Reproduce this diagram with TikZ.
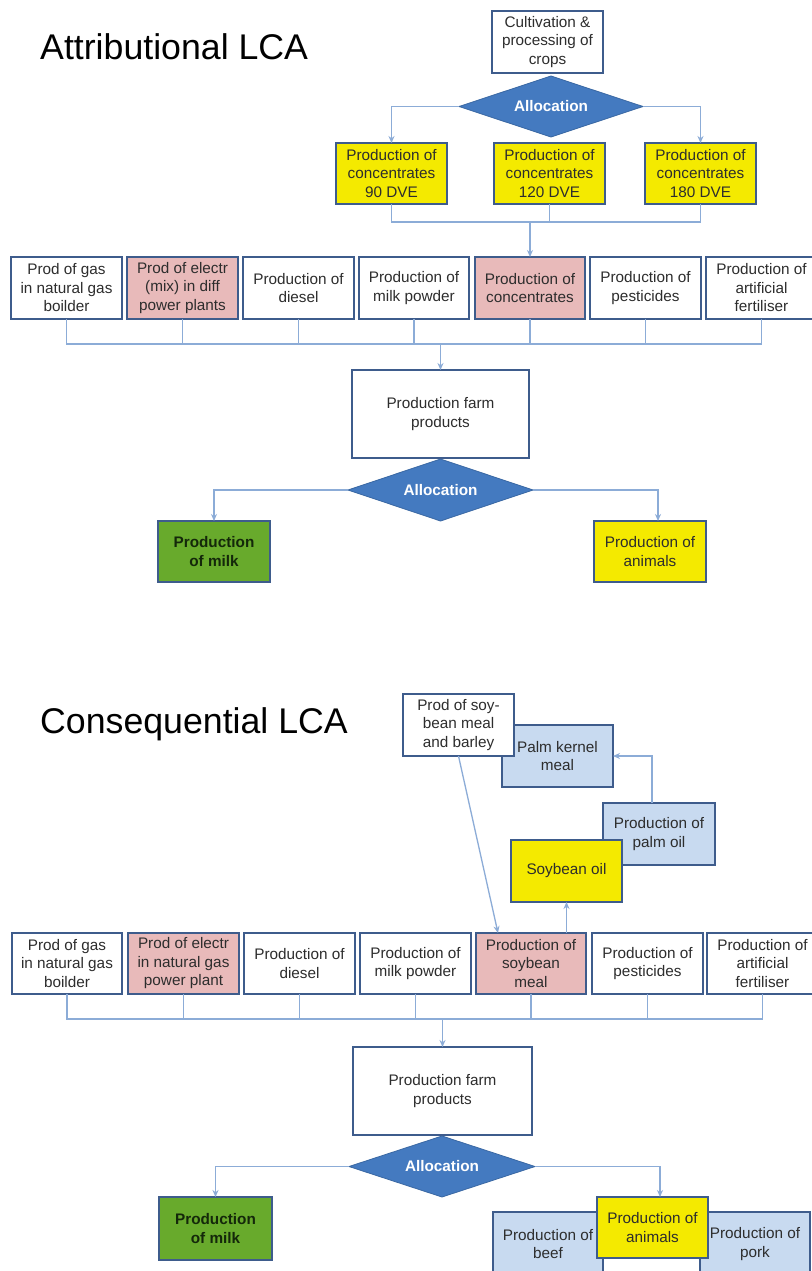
\documentclass[tikz,border=0pt]{standalone}
\usepackage{fontspec}
\setmainfont{Liberation Sans}
\usetikzlibrary{shapes.geometric,arrows.meta}
\definecolor{bordc}{RGB}{62,92,140}
\definecolor{connc}{RGB}{140,172,215}
\definecolor{dfill}{RGB}{68,122,192}
\definecolor{yel}{RGB}{244,234,0}
\definecolor{pinkc}{RGB}{232,186,186}
\definecolor{grn}{RGB}{104,170,44}
\definecolor{lblue}{RGB}{200,218,240}
\definecolor{txt}{RGB}{45,45,45}
\definecolor{mtxt}{RGB}{20,40,10}
\newcommand{\mybox}[7]{\node[#2, minimum width={#5-#3}, minimum height={#6-#4}] (#1) at ({(#3+#5)/2},{(#4+#6)/2}) {#7};}
\begin{document}
\begin{tikzpicture}[x=1pt,y=-1pt,
  base/.style={draw=bordc, line width=1.5pt, inner sep=0pt, outer sep=0pt, align=center, text=txt, font=\fontsize{15.3}{18.5}\selectfont},
  wbox/.style={base, fill=white},
  ybox/.style={base, fill=yel},
  pbox/.style={base, fill=pinkc},
  gbox/.style={base, fill=grn, font=\fontsize{15.3}{18.5}\selectfont\bfseries, text=mtxt},
  lbbox/.style={base, fill=lblue},
  alloc/.style={diamond, shape aspect=3, fill=dfill, draw=dfill!85!black, line width=0.8pt, inner sep=0pt, outer sep=0pt, text=white, font=\fontsize{15.3}{18.5}\selectfont\bfseries},
  conn/.style={draw=connc, line width=1.3pt},
  arr/.style={conn, -{Stealth[length=7pt,width=6pt]}},
  title/.style={anchor=base west, inner sep=0pt, text=black, font=\fontsize{35.7}{40}\selectfont}
]
\useasboundingbox (0,0) rectangle (811,1271);
\fill[white] (0,0) rectangle (811,1271);

% ===================== Attributional LCA =====================
\node[title] (tA) at (40,60) {Attributional LCA};

\mybox{cult}{wbox}{492}{11}{603}{73}{Cultivation \&\\processing of\\crops}
\node[alloc, minimum width=184, minimum height=61] (allA1) at (551,106.5) {Allocation};

\mybox{yA1}{ybox}{336}{143}{447}{204}{Production of\\concentrates\\90 DVE}
\mybox{yA2}{ybox}{494}{143}{605}{204}{Production of\\concentrates\\120 DVE}
\mybox{yA3}{ybox}{645}{143}{756}{204}{Production of\\concentrates\\180 DVE}

\draw[arr] (allA1.west) -| (yA1.north);
\draw[arr] (allA1.east) -| (yA3.north);

\mybox{rA1}{wbox}{11}{257}{122}{319}{Prod of gas\\in natural gas\\boilder}
\mybox{rA2}{pbox}{127}{257}{238}{319}{Prod of electr\\(mix) in diff\\power plants}
\mybox{rA3}{wbox}{243}{257}{354}{319}{Production of\\diesel}
\mybox{rA4}{wbox}{359}{257}{469}{319}{Production of\\milk powder}
\mybox{rA5}{pbox}{475}{257}{585}{319}{Production of\\concentrates}
\mybox{rA6}{wbox}{590}{257}{701}{319}{Production of\\pesticides}
\mybox{rA7}{wbox}{706}{257}{817}{319}{Production of\\artificial\\fertiliser}

\coordinate (busA) at (549.5,222);
\draw[conn] (yA1.south) |- (busA) -| (yA3.south);
\draw[conn] (yA2.south) -- (busA);
\draw[arr] (rA5.north |- busA) -- (rA5.north);

\mybox{farmA}{wbox}{352}{370}{529}{458}{Production farm\\products}
\coordinate (busA2) at (440.5,344);
\draw[conn] (rA1.south) |- (busA2) -| (rA7.south);
\foreach \i in {2,...,6} {\draw[conn] (rA\i.south) -- (rA\i.south |- busA2);}
\draw[arr] (busA2) -- (farmA.north);

\node[alloc, minimum width=185, minimum height=62] (allA2) at (440.5,490) {Allocation};
\mybox{milkA}{gbox}{158}{521}{270}{582}{Production\\of milk}
\mybox{animA}{ybox}{594}{521}{706}{582}{Production of\\animals}
\draw[arr] (allA2.west) -| (milkA.north);
\draw[arr] (allA2.east) -| ([xshift=8pt]animA.north);

% ===================== Consequential LCA =====================
\node[title] (tC) at (40,733) {Consequential LCA};

\mybox{palmk}{lbbox}{502}{725}{613}{787}{Palm kernel\\meal}
\mybox{soyb}{wbox}{403}{694}{514}{756}{Prod of soy-\\bean meal\\and barley}
\mybox{palmo}{lbbox}{603}{803}{715}{865}{Production of\\palm oil}
\mybox{soyoil}{ybox}{511}{840}{622}{902}{Soybean oil}
\draw[arr] ([xshift=-7pt]palmo.north) |- (palmk.east);

\mybox{rC1}{wbox}{12}{933}{122}{994}{Prod of gas\\in natural gas\\boilder}
\mybox{rC2}{pbox}{128}{933}{239}{994}{Prod of electr\\in natural gas\\power plant}
\mybox{rC3}{wbox}{244}{933}{355}{994}{Production of\\diesel}
\mybox{rC4}{wbox}{360}{933}{471}{994}{Production of\\milk powder}
\mybox{rC5}{pbox}{476}{933}{586}{994}{Production of\\soybean\\meal}
\mybox{rC6}{wbox}{592}{933}{703}{994}{Production of\\pesticides}
\mybox{rC7}{wbox}{707}{933}{818}{994}{Production of\\artificial\\fertiliser}

\draw[arr] (soyb.south) -- ([xshift=-33pt]rC5.north);
\draw[arr] (soyoil.south |- rC5.north) -- (soyoil.south);

\mybox{farmC}{wbox}{353}{1047}{532}{1135}{Production farm\\products}
\coordinate (busC) at (442.5,1019);
\draw[conn] (rC1.south) |- (busC) -| (rC7.south);
\foreach \i in {2,...,6} {\draw[conn] (rC\i.south) -- (rC\i.south |- busC);}
\draw[arr] (busC) -- (farmC.north);

\node[alloc, minimum width=186, minimum height=61] (allC) at (442,1166.5) {Allocation};
\mybox{milkC}{gbox}{159}{1197}{272}{1260}{Production\\of milk}
\mybox{beef}{lbbox}{493}{1212}{603}{1276}{Production of\\beef}
\mybox{pork}{lbbox}{700}{1212}{810}{1276}{Production of\\pork}
\mybox{animC}{ybox}{597}{1197}{708}{1258}{Production of\\animals}
\draw[arr] (allC.west) -| (milkC.north);
\draw[arr] (allC.east) -| ([xshift=7.5pt]animC.north);
\end{tikzpicture}
\end{document}
